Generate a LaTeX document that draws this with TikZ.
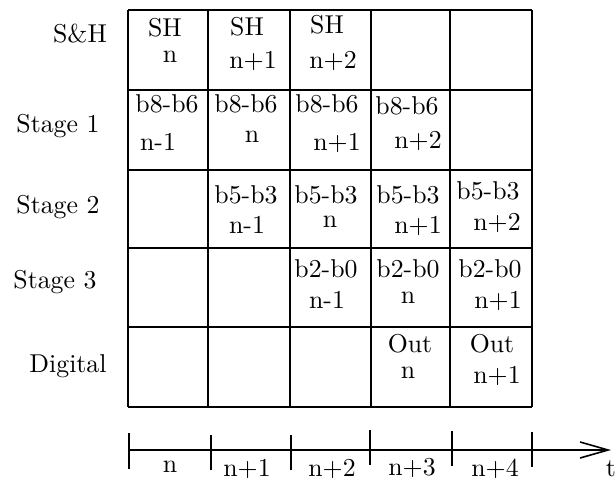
\documentclass[tikz,border=0pt]{standalone}
\usepackage{graphicx}
\usetikzlibrary{arrows.meta}
\newcommand{\bigtxt}[1]{\scalebox{2.58}{#1}}
\begin{document}
\begin{tikzpicture}[x=1pt,y=-1pt,
  txt/.style={anchor=base,inner sep=0pt,font=\normalsize},
  gridline/.style={line width=1.7pt},
  axis/.style={line width=1.6pt},
  tick/.style={line width=1.6pt}]
\useasboundingbox (0,0) rectangle (616,480);
% grid
\foreach \x in {128,208,290,371,450,532} \draw[gridline] (\x,10) -- (\x,407);
\foreach \y in {10,90,170,248,327,407} \draw[gridline] (128,\y) -- (532,\y);
% row labels
\node[txt] (lsh) at (80,42) {\bigtxt{S\&H}};
\node[txt] (ls1) at (58,132) {\bigtxt{Stage 1}};
\node[txt] (ls2) at (58,213) {\bigtxt{Stage 2}};
\node[txt] (ls3) at (55,288) {\bigtxt{Stage 3}};
\node[txt] (ldg) at (68,372) {\bigtxt{Digital}};
% row 1
\node[txt] (a1) at (165,36) {\bigtxt{SH}};   \node[txt] (a1b) at (170,62) {\bigtxt{n}};
\node[txt] (a2) at (247,35) {\bigtxt{SH}};   \node[txt] (a2b) at (253,68) {\bigtxt{n+1}};
\node[txt] (a3) at (327,33) {\bigtxt{SH}};   \node[txt] (a3b) at (333,68) {\bigtxt{n+2}};
% row 2
\node[txt] (b1) at (167,112) {\bigtxt{b8-b6}}; \node[txt] (b1b) at (158,150) {\bigtxt{n-1}};
\node[txt] (b2) at (246,112) {\bigtxt{b8-b6}}; \node[txt] (b2b) at (252,142) {\bigtxt{n}};
\node[txt] (b3) at (327,112) {\bigtxt{b8-b6}}; \node[txt] (b3b) at (337,150) {\bigtxt{n+1}};
\node[txt] (b4) at (407,114) {\bigtxt{b8-b6}}; \node[txt] (b4b) at (418,148) {\bigtxt{n+2}};
% row 3
\node[txt] (c2) at (246,203) {\bigtxt{b5-b3}}; \node[txt] (c2b) at (247,233) {\bigtxt{n-1}};
\node[txt] (c3) at (326,203) {\bigtxt{b5-b3}}; \node[txt] (c3b) at (330,227) {\bigtxt{n}};
\node[txt] (c4) at (408,203) {\bigtxt{b5-b3}}; \node[txt] (c4b) at (418,233) {\bigtxt{n+1}};
\node[txt] (c5) at (488,199) {\bigtxt{b5-b3}}; \node[txt] (c5b) at (497,230) {\bigtxt{n+2}};
% row 4
\node[txt] (d3) at (326,277) {\bigtxt{b2-b0}}; \node[txt] (d3b) at (327,308) {\bigtxt{n-1}};
\node[txt] (d4) at (408,277) {\bigtxt{b2-b0}}; \node[txt] (d4b) at (408,303) {\bigtxt{n}};
\node[txt] (d5) at (490,277) {\bigtxt{b2-b0}}; \node[txt] (d5b) at (498,308) {\bigtxt{n+1}};
% row 5
\node[txt] (e4) at (410,352) {\bigtxt{Out}}; \node[txt] (e4b) at (408,378) {\bigtxt{n}};
\node[txt] (e5) at (492,352) {\bigtxt{Out}}; \node[txt] (e5b) at (497,383) {\bigtxt{n+1}};
% time axis
\coordinate (t0) at (129,450);
\coordinate (tend) at (611,450);
\draw[axis,-{Straight Barb[length=28pt,width=16pt,line width=1.6pt]}] (t0) -- (tend);
\draw[tick] (129,433) -- (129,469);
\draw[tick] (211,435) -- (211,470);
\draw[tick] (291,435) -- (291,470);
\draw[tick] (370,430) -- (370,465);
\draw[tick] (452,431) -- (452,466);
\draw[tick] (532,432) -- (532,467);
\node[txt] (tn) at (170,472) {\bigtxt{n}};
\node[txt] (tn1) at (247,476) {\bigtxt{n+1}};
\node[txt] (tn2) at (332,476) {\bigtxt{n+2}};
\node[txt] (tn3) at (412,475) {\bigtxt{n+3}};
\node[txt] (tn4) at (495,476) {\bigtxt{n+4}};
\node[txt] (tt) at (611,476) {\bigtxt{t}};
\end{tikzpicture}
\end{document}
